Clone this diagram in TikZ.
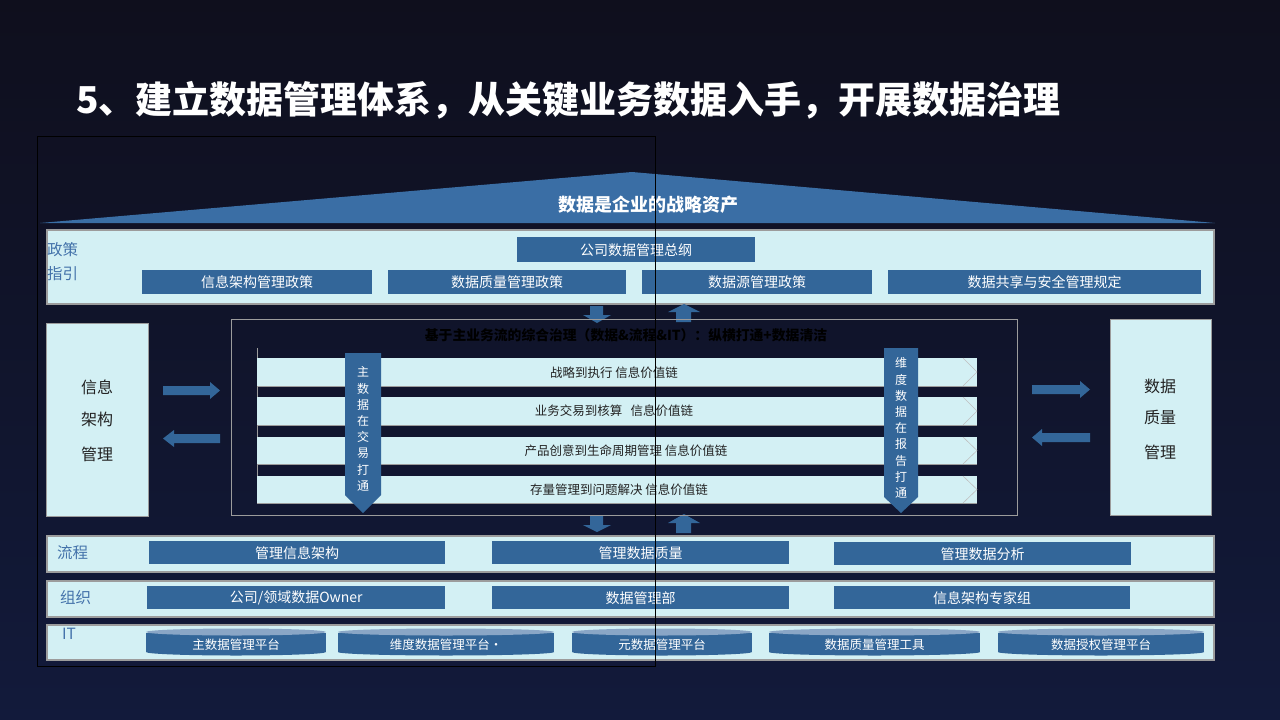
\documentclass[tikz,border=0pt]{standalone}
\usepackage{fontspec}
\setmainfont{Noto Sans CJK SC}
\definecolor{bgtop}{HTML}{0F0F1D}
\definecolor{bgbot}{HTML}{121A3B}
\definecolor{lite}{HTML}{D3F0F4}
\definecolor{boxblue}{HTML}{336699}
\definecolor{roofblue}{HTML}{3A6EA5}
\definecolor{lblblue}{HTML}{4372AA}
\definecolor{bordergray}{HTML}{9C9C9C}
\definecolor{txtdark}{HTML}{222222}
\definecolor{cyltop}{HTML}{8AA6C6}
\newcommand\mybox[7]{\node[#6, anchor=north west, inner sep=0pt,
  minimum width={(#4-#2)*1pt}, minimum height={(#5-#3)*1pt}] (#1) at (#2,#3) {#7};}
\newcommand\mycyl[5]{%
  \fill[boxblue] (#2,633) rectangle (#3,652);
  \fill[boxblue] ({(#2+#3)/2},652) ellipse ({(#3-#2)/2*1pt} and 3.5pt);
  \fill[cyltop] ({(#2+#3)/2},632) ellipse ({(#3-#2)/2*1pt} and 3.5pt);
  \node[cyltext] (#1) at ({(#2+#3)/2},#4) {#5};}
\tikzset{
  band/.style={fill=lite, draw=bordergray, line width=1.5pt},
  bluebox/.style={fill=boxblue, text=white, font=\fontsize{14}{16}\selectfont},
  sidebox/.style={fill=lite, draw=bordergray, line width=1.2pt},
  sidetext/.style={text=txtdark, font=\fontsize{16}{18}\selectfont},
  lbl/.style={anchor=west, text=lblblue, font=\fontsize{15.5}{17}\selectfont, inner sep=0pt},
  rowbar/.style={fill=lite},
  rowtext/.style={text=txtdark, font=\fontsize{12.5}{14}\selectfont},
  cyltext/.style={text=white, font=\fontsize{12.5}{14}\selectfont},
  blk/.style={fill=boxblue},
  vtext/.style={text=white, align=center, font=\fontsize{12}{16.2}\selectfont, inner sep=0pt},
}
\begin{document}
\begin{tikzpicture}[x=1pt, y=-1pt]
\useasboundingbox (0,0) rectangle (1280,720);
\shade[top color=bgtop, bottom color=bgbot] (0,0) rectangle (1280,720);

% title
\node[anchor=west, text=white, font=\fontsize{37}{40}\selectfont\bfseries, inner sep=0pt] (title) at (76,100)
  {5、建立数据管理体系，从关键业务数据入手，开展数据治理};

% roof
\fill[roofblue] (40,223) -- (632,172) -- (1215,223) -- cycle;
\node[text=white, font=\fontsize{18}{20}\selectfont\bfseries] (roof) at (648,205) {数据是企业的战略资产};

% policy band
\mybox{policy}{46}{229}{1213}{303}{band}{}
\node[lbl] (zc) at (47,250) {政策};
\node[lbl] (zy) at (47,274) {指引};
\mybox{zonggang}{517}{237}{755}{262}{bluebox}{公司数据管理总纲}
\mybox{p1}{142}{270}{372}{294}{bluebox}{信息架构管理政策}
\mybox{p2}{388}{270}{626}{294}{bluebox}{数据质量管理政策}
\mybox{p3}{642}{270}{872}{294}{bluebox}{数据源管理政策}
\mybox{p4}{888}{270}{1201}{294}{bluebox}{数据共享与安全管理规定}

% up/down arrows top
\fill[blk] (590,306) -- (603,306) -- (603,315) -- (611,315) -- (597,323) -- (583,315) -- (590,315) -- cycle;
\fill[blk] (684,304) -- (700,312) -- (691,312) -- (691,322) -- (676,322) -- (676,312) -- (668,312) -- cycle;
% up/down arrows bottom
\fill[blk] (590,516) -- (603,516) -- (603,525) -- (611,525) -- (597,532) -- (583,525) -- (590,525) -- cycle;
\fill[blk] (684,514) -- (700,523) -- (691,523) -- (691,533) -- (676,533) -- (676,523) -- (668,523) -- cycle;

% side boxes
\mybox{left}{46}{323}{148}{516}{sidebox}{}
\node[sidetext] (l1) at (97,387) {信息};
\node[sidetext] (l2) at (97,419) {架构};
\node[sidetext] (l3) at (97,454) {管理};
\mybox{right}{1110}{319}{1211}{515}{sidebox}{}
\node[sidetext] (r1) at (1160,386) {数据};
\node[sidetext] (r2) at (1160,417) {质量};
\node[sidetext] (r3) at (1160,452) {管理};

% horizontal block arrows
\fill[blk] (163,386) -- (210,386) -- (210,382) -- (220,390.5) -- (210,399) -- (210,395) -- (163,395) -- cycle;
\fill[blk] (220,434) -- (174,434) -- (174,430) -- (163,438.5) -- (174,447) -- (174,443) -- (220,443) -- cycle;
\fill[blk] (1032,385) -- (1080,385) -- (1080,381) -- (1090,389.5) -- (1080,398) -- (1080,394) -- (1032,394) -- cycle;
\fill[blk] (1090,433) -- (1042,433) -- (1042,429) -- (1032,437.5) -- (1042,446) -- (1042,442) -- (1090,442) -- cycle;

% central box
\mybox{center}{231}{319}{1017}{515}{draw=bordergray, line width=1.2pt}{}
\node[text=black, font=\fontsize{13.8}{15}\selectfont\bfseries] (ctitle) at (626,335)
  {基于主业务流的综合治理（数据\&流程\&IT）：纵横打通+数据清洁};

% rows
\draw[bordergray, line width=1pt] (257,348) -- (257,503);
\foreach \t/\b/\n in {358/386/a, 397/425/b, 437/464/c, 476/503/d}{
  \fill[rowbar] (257,\t) rectangle (977,\b);
  \draw[bordergray, line width=1pt] (257,\b) -- (977,\b);
  \draw[black!25, line width=0.6pt] (963,\t) -- (977,{(\t+\b)/2}) -- (963,\b);
}
\node[rowtext] (row1) at (614,373) {战略到执行 信息价值链};
\node[rowtext] (row2) at (614,411) {业务交易到核算\ \ \ 信息价值链};
\node[rowtext] (row3) at (626,451) {产品创意到生命周期管理 信息价值链};
\node[rowtext] (row4) at (619,490) {存量管理到问题解决 信息价值链};

% vertical arrows
\fill[blk] (345,353) -- (381,353) -- (381,495) -- (363,513) -- (345,495) -- cycle;
\node[vtext] (vz) at (363,429) {主\\数\\据\\在\\交\\易\\打\\通};
\fill[blk] (884,348) -- (918,348) -- (918,497) -- (901,513) -- (884,497) -- cycle;
\node[vtext] (vw) at (901,428) {维\\度\\数\\据\\在\\报\\告\\打\\通};

% process band
\mybox{liucheng}{46}{535}{1213}{571}{band}{}
\node[lbl] (lc) at (57,553) {流程};
\mybox{f1}{149}{541}{445}{564}{bluebox}{管理信息架构}
\mybox{f2}{492}{541}{789}{564}{bluebox}{管理数据质量}
\mybox{f3}{834}{542}{1131}{565}{bluebox}{管理数据分析}

% org band
\mybox{zuzhi}{46}{580}{1213}{616}{band}{}
\node[lbl] (zz) at (60,598) {组织};
\mybox{o1}{147}{586}{445}{609}{bluebox}{公司/领域数据Owner}
\mybox{o2}{492}{586}{789}{609}{bluebox}{数据管理部}
\mybox{o3}{834}{586}{1130}{609}{bluebox}{信息架构专家组}

% IT band
\mybox{itband}{46}{624}{1213}{659}{band}{}
\node[lbl] (it) at (62,634) {IT};
\mycyl{c1}{146}{326}{645}{主数据管理平台}
\mycyl{c2}{338}{554}{645}{维度数据管理平台·}
\mycyl{c3}{572}{752}{645}{元数据管理平台}
\mycyl{c4}{769}{980}{645}{数据质量管理工具}
\mycyl{c5}{998}{1204}{645}{数据授权管理平台}

% stray frame
\draw[black, line width=1pt] (37,136) rectangle (655,666);
\end{tikzpicture}
\end{document}
